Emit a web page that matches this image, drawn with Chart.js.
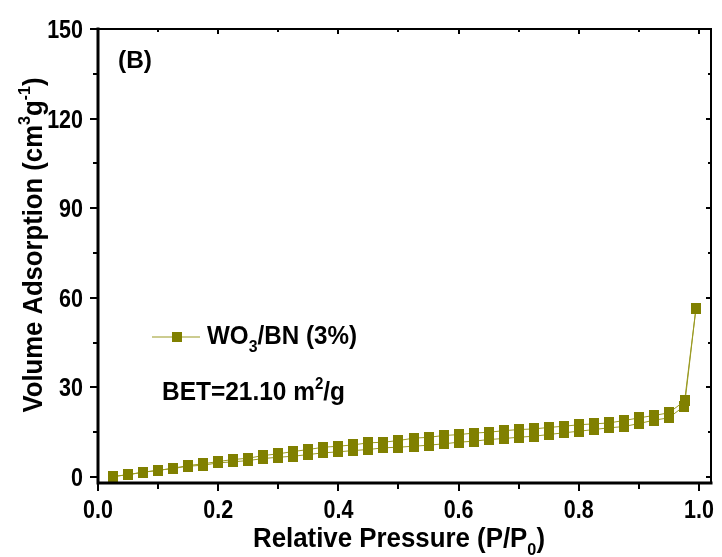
<!DOCTYPE html>
<html>
<head>
<title>BET isotherm</title>
<script src="https://cdn.jsdelivr.net/npm/chart.js"></script>
<style>
  body { margin: 0; background: #fff; }
  #wrap { width: 722px; height: 557px; }
</style>
</head>
<body>
<div id="wrap"><canvas id="bet"></canvas></div>
<script>
// values
var pressure = [0.025, 0.05, 0.075, 0.1, 0.125, 0.15, 0.175, 0.2, 0.225, 0.25,
  0.275, 0.3, 0.325, 0.35, 0.375, 0.4, 0.425, 0.45, 0.475, 0.5,
  0.525, 0.55, 0.575, 0.6, 0.625, 0.65, 0.675, 0.7, 0.725, 0.75,
  0.775, 0.8, 0.825, 0.85, 0.875, 0.9, 0.925, 0.95, 0.975, 0.995];
var adsorption = [0.07, 0.84, 1.61, 2.28, 2.85, 3.62, 3.95, 4.75, 5.09, 5.52,
  6.19, 6.63, 6.96, 7.53, 8.10, 8.44, 8.87, 9.21, 9.78, 9.98,
  10.31, 10.65, 11.11, 11.65, 11.99, 12.55, 12.89, 13.32, 13.66, 14.23,
  14.80, 15.33, 15.90, 16.47, 16.9, 17.9, 19.02, 19.82, 23.7, 56.5];
var desorptionPressure = [0.995, 0.977, 0.95, 0.925, 0.9, 0.875, 0.85, 0.825, 0.8, 0.775,
  0.75, 0.725, 0.7, 0.675, 0.65, 0.625, 0.6, 0.575, 0.55, 0.525,
  0.5, 0.475, 0.45, 0.425, 0.4, 0.375, 0.35, 0.325, 0.3, 0.275,
  0.25, 0.225, 0.2, 0.175, 0.15, 0.125, 0.1, 0.075, 0.05, 0.025];
var desorption = [56.5, 25.6, 21.5, 20.6, 19.8, 18.9, 18.1, 17.8, 17.5, 17.0,
  16.6, 16.1, 15.9, 15.5, 15.0, 14.7, 14.2, 13.9, 13.3, 13.0,
  12.22, 11.65, 11.45, 10.78, 10.31, 9.98, 9.21, 8.54, 7.77, 7.20,
  6.30, 5.86, 5.19, 4.42, 3.85, 2.95, 2.18, 1.61, 0.73, 0.27];

var xTickValues = [0.0, 0.2, 0.4, 0.6, 0.8, 1.0];
var xMinorValues = [0.1, 0.3, 0.5, 0.7, 0.9];
var yTickValues = [0, 30, 60, 90, 120, 150];
var yMinorValues = [15, 45, 75, 105, 135];

var olive = '#808000';
var lineOlive = '#9a9a22';
var fontFamily = '"Liberation Sans", Arial, sans-serif';

// marker: small olive rectangle, a bit taller than wide
var marker = document.createElement('canvas');
marker.width = 10;
marker.height = 11;
var mctx = marker.getContext('2d');
mctx.fillStyle = olive;
mctx.fillRect(0, 0, 10, 11);

function toPoints(xs, ys) {
  return xs.map(function (x, i) { return { x: x, y: ys[i] }; });
}

// text with sub/superscripts; squeezed to a width or by a factor
function drawRich(ctx, parts, x, y, width, align, squeeze) {
  var widths = parts.map(function (p) {
    ctx.font = 'bold ' + p.size + 'px ' + fontFamily;
    return ctx.measureText(p.text).width;
  });
  var total = widths.reduce(function (a, b) { return a + b; }, 0);
  var sx = width ? width / total : (squeeze || 1);
  ctx.save();
  ctx.translate(x, y);
  ctx.scale(sx, 1);
  ctx.fillStyle = '#000';
  ctx.textBaseline = 'alphabetic';
  ctx.textAlign = 'left';
  var cx = 0;
  if (align === 'center') cx = -total / 2;
  if (align === 'right') cx = -total;
  parts.forEach(function (p, i) {
    ctx.font = 'bold ' + p.size + 'px ' + fontFamily;
    ctx.fillText(p.text, cx, p.shift || 0);
    cx += widths[i];
  });
  ctx.restore();
}

var decorations = {
  id: 'decorations',
  afterDraw: function (chart) {
    var ctx = chart.ctx;
    var a = chart.chartArea;
    var xs = chart.scales.x;
    var ys = chart.scales.y;
    ctx.save();
    ctx.strokeStyle = '#000';
    ctx.lineCap = 'square';

    // frame
    ctx.lineWidth = 2;
    ctx.beginPath();
    ctx.moveTo(a.left, a.top); ctx.lineTo(a.right, a.top);
    ctx.moveTo(a.right, a.top); ctx.lineTo(a.right, a.bottom);
    ctx.stroke();
    ctx.lineWidth = 3;
    ctx.beginPath();
    ctx.moveTo(a.left, a.top); ctx.lineTo(a.left, a.bottom);
    ctx.moveTo(a.left, a.bottom); ctx.lineTo(a.right, a.bottom);
    ctx.stroke();

    // ticks
    ctx.lineWidth = 2;
    ctx.lineCap = 'butt';
    ctx.beginPath();
    xTickValues.concat(xMinorValues).forEach(function (v, i) {
      var major = i < xTickValues.length;
      var px = Math.round(xs.getPixelForValue(v));
      ctx.moveTo(px, a.bottom); ctx.lineTo(px, a.bottom + (major ? 8 : 6));
      ctx.moveTo(px, a.top); ctx.lineTo(px, a.top + (major ? 5 : 3));
    });
    yTickValues.concat(yMinorValues).forEach(function (v, i) {
      var major = i < yTickValues.length;
      var py = Math.round(ys.getPixelForValue(v));
      ctx.moveTo(a.left, py); ctx.lineTo(a.left - (major ? 8 : 5), py);
      ctx.moveTo(a.right, py); ctx.lineTo(a.right - (major ? 5 : 3), py);
    });
    ctx.stroke();

    // tick labels (narrow bold face, as in the original)
    xTickValues.forEach(function (v) {
      drawRich(ctx, [{ text: v.toFixed(1), size: 25 }],
        xs.getPixelForValue(v), a.bottom + 35, null, 'center', 0.86);
    });
    yTickValues.forEach(function (v) {
      drawRich(ctx, [{ text: String(v), size: 25 }],
        a.left - 15, ys.getPixelForValue(v) + 9, null, 'right', 0.86);
    });

    // axis titles
    ctx.save();
    ctx.translate(42, 245);
    ctx.rotate(-Math.PI / 2);
    drawRich(ctx, [
      { text: 'Volume Adsorption (cm', size: 27 },
      { text: '3', size: 17, shift: -12 },
      { text: 'g', size: 27 },
      { text: '-1', size: 17, shift: -12 },
      { text: ')', size: 27 }
    ], 0, 0, 335, 'center');
    ctx.restore();

    drawRich(ctx, [
      { text: 'Relative Pressure (P/P', size: 27 },
      { text: '0', size: 17, shift: 8 },
      { text: ')', size: 27 }
    ], 399, 547, 292, 'center');

    // panel label
    drawRich(ctx, [{ text: '(B)', size: 23 }], 118, 68, 34);

    // legend
    ctx.strokeStyle = lineOlive;
    ctx.lineWidth = 1.2;
    ctx.beginPath();
    ctx.moveTo(152, 337); ctx.lineTo(200, 337);
    ctx.stroke();
    ctx.fillStyle = olive;
    ctx.fillRect(172, 332, 10, 10);
    drawRich(ctx, [
      { text: 'WO', size: 26 },
      { text: '3', size: 17, shift: 8 },
      { text: '/BN (3%)', size: 26 }
    ], 207, 344, 150);

    drawRich(ctx, [
      { text: 'BET=21.10 m', size: 26 },
      { text: '2', size: 16, shift: -11 },
      { text: '/g', size: 26 }
    ], 162, 400, 183);

    ctx.restore();
  }
};

new Chart(document.getElementById('bet'), {
  type: 'scatter',
  data: {
    datasets: [
      {
        label: 'WO3/BN (3%) desorption',
        data: toPoints(desorptionPressure, desorption),
        showLine: true,
        borderColor: lineOlive,
        borderWidth: 1,
        pointStyle: marker,
        backgroundColor: olive
      },
      {
        label: 'WO3/BN (3%)',
        data: toPoints(pressure, adsorption),
        showLine: true,
        borderColor: lineOlive,
        borderWidth: 1,
        pointStyle: marker,
        backgroundColor: olive
      }
    ]
  },
  options: {
    responsive: true,
    maintainAspectRatio: false,
    animation: false,
    layout: { padding: { top: 29, right: 11, left: 0, bottom: 0 } },
    plugins: { legend: { display: false }, tooltip: { enabled: false } },
    scales: {
      x: {
        type: 'linear',
        min: 0,
        max: 1.02,
        afterFit: function (s) { s.height = 74; },
        afterBuildTicks: function (s) {
          s.ticks = xTickValues.map(function (v) { return { value: v }; });
        },
        ticks: { display: false },
        grid: { display: false, drawTicks: false, tickLength: 0 },
        border: { display: false }
      },
      y: {
        type: 'linear',
        min: -2,
        max: 150,
        afterFit: function (s) { s.width = 98; },
        afterBuildTicks: function (s) {
          s.ticks = yTickValues.map(function (v) { return { value: v }; });
        },
        ticks: { display: false },
        grid: { display: false, drawTicks: false, tickLength: 0 },
        border: { display: false }
      }
    }
  },
  plugins: [decorations]
});
</script>
</body>
</html>
